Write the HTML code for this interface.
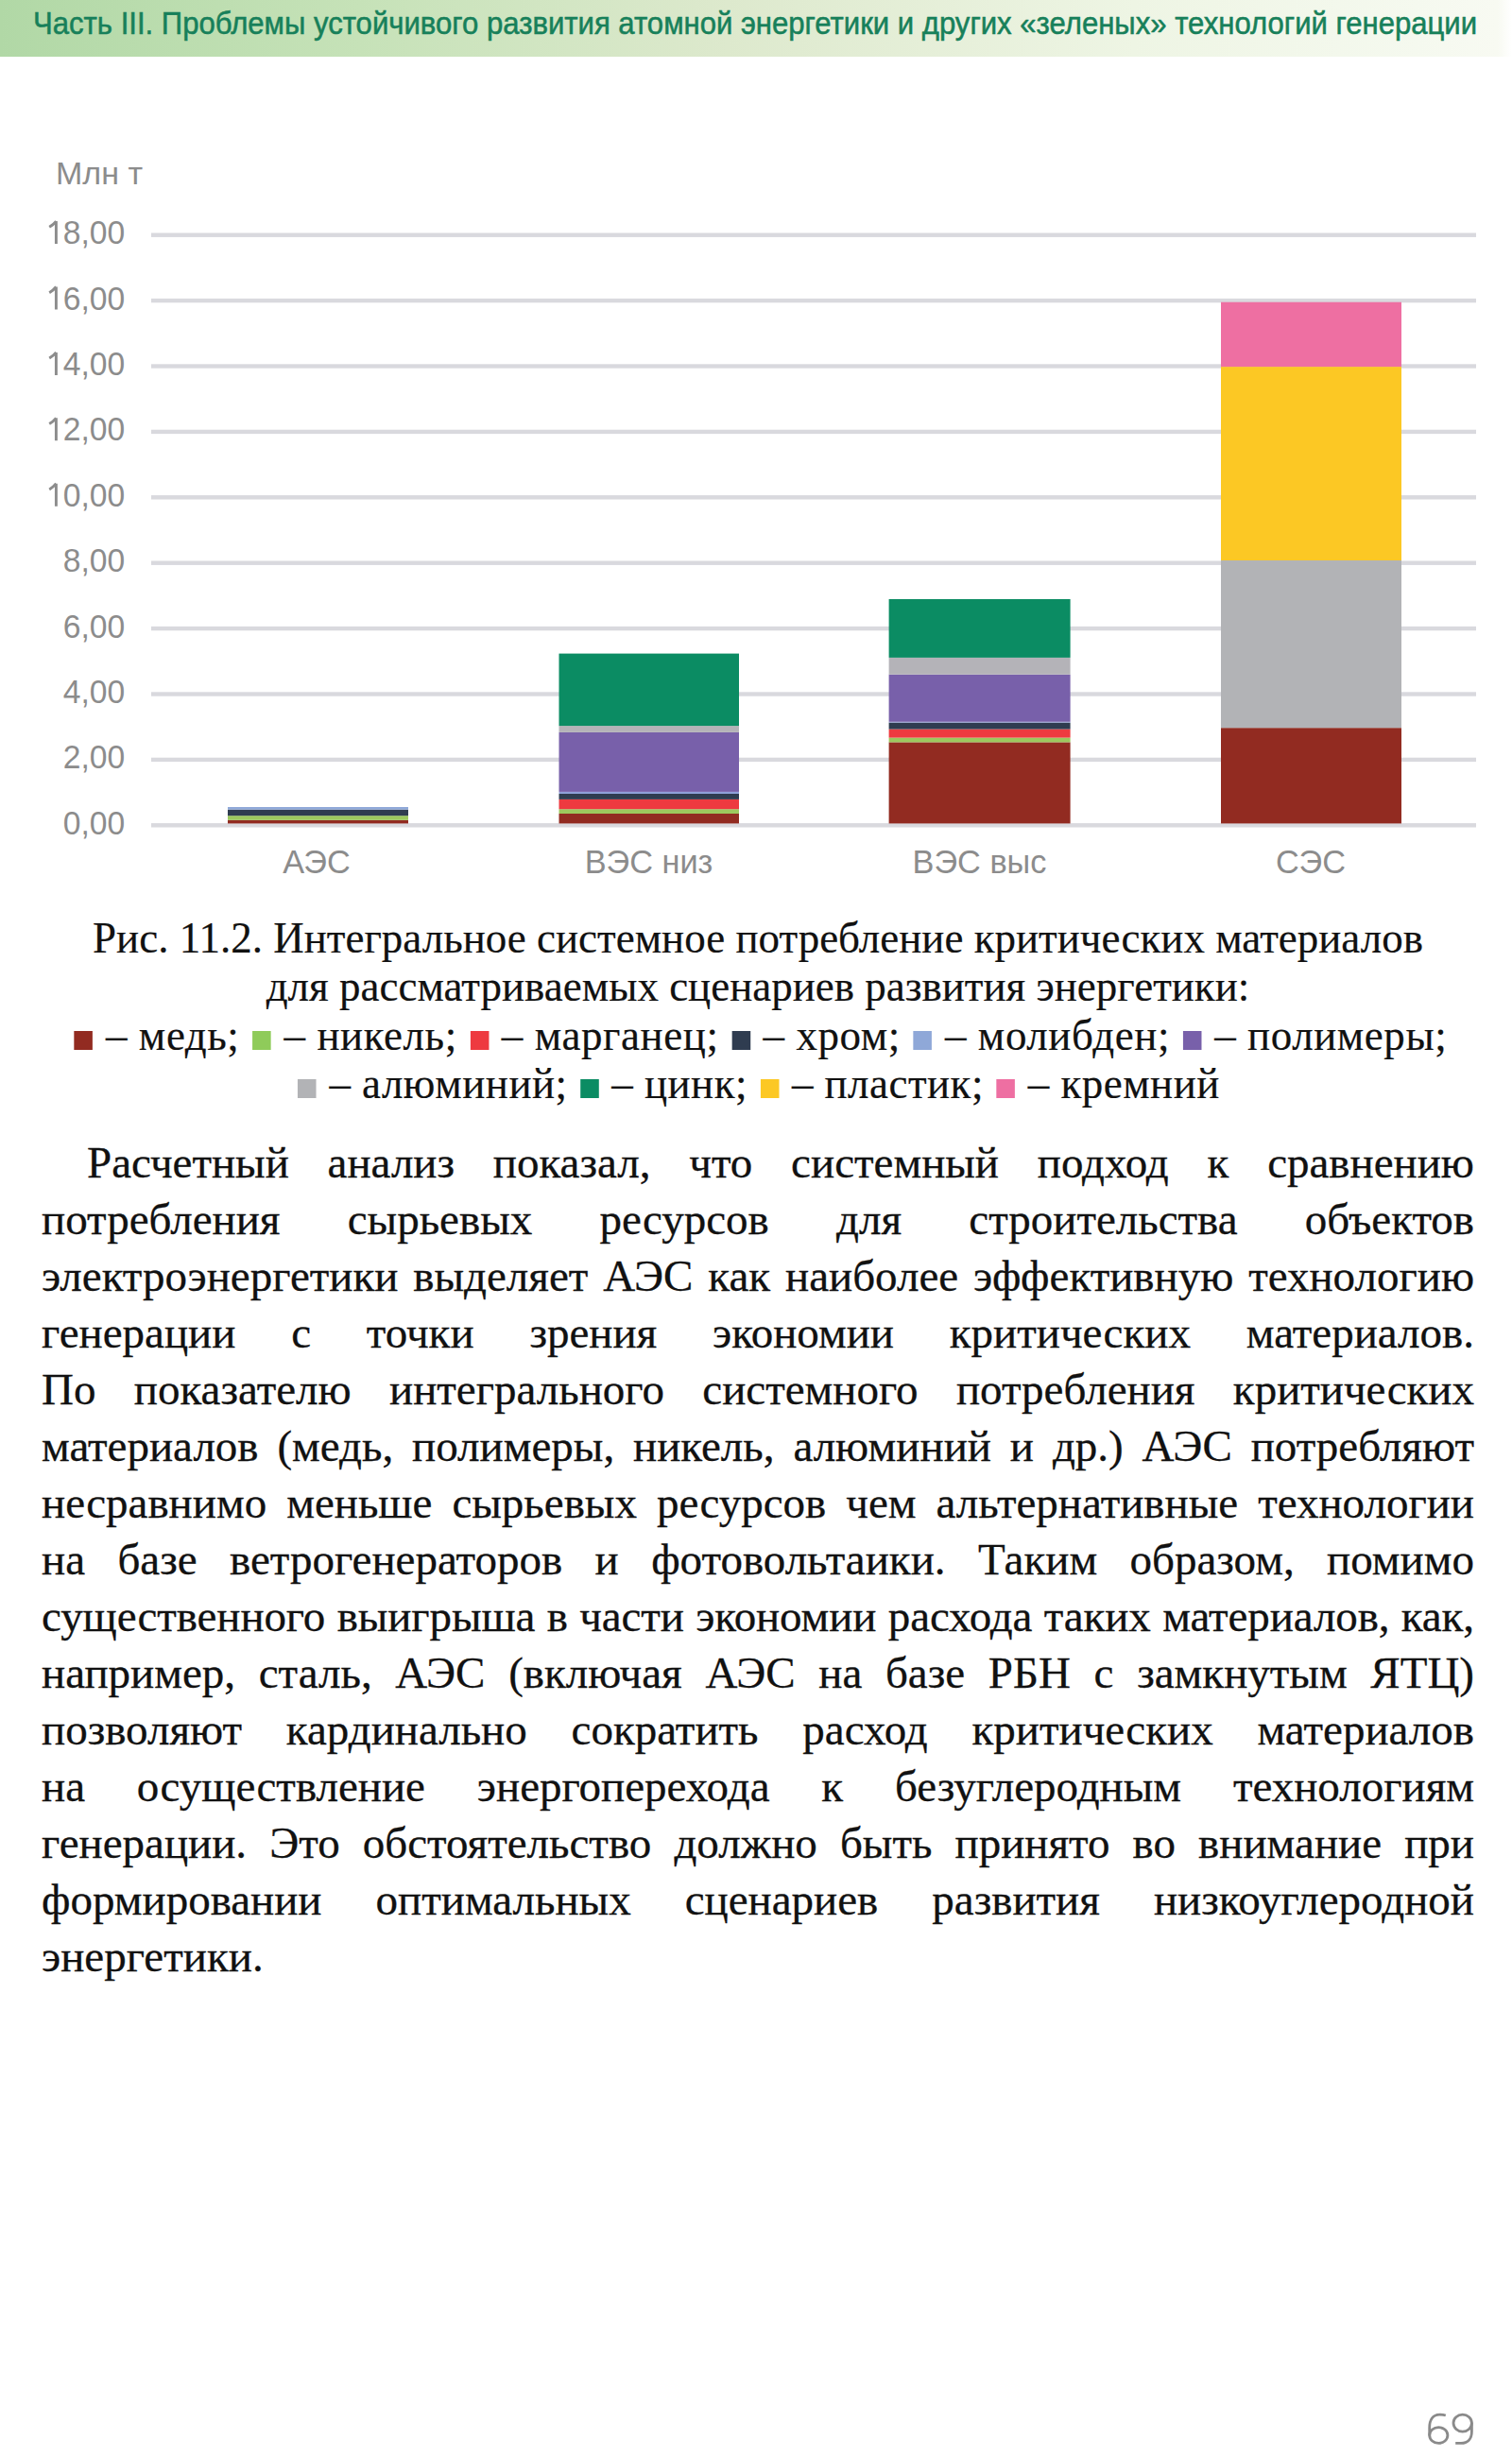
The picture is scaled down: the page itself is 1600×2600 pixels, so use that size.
<!DOCTYPE html>
<html lang="ru">
<head>
<meta charset="utf-8">
<title>Page 69</title>
<style>
html,body{margin:0;padding:0;background:#fff;}
body{width:1600px;height:2600px;position:relative;overflow:hidden;}
.band{position:absolute;left:0;top:0;width:1600px;height:60px;
  background:linear-gradient(90deg,#b1d8a6 0px,#c6e2b8 380px,#dde9cd 770px,#eef5e4 1200px,#f5f9ef 1500px,#f8faf2 1585px,#ffffff 1600px);}
.hdr{position:absolute;left:34.5px;top:4px;-webkit-text-stroke:0.55px #17805a;font-family:"Liberation Sans",sans-serif;font-size:34px;line-height:40px;color:#17805a;
  white-space:nowrap;transform-origin:0 0;transform:scaleX(0.9145);}
svg{position:absolute;left:0;top:0;}
.cap{position:absolute;left:0;width:1600px;text-align:center;font-family:"Liberation Serif",serif;font-size:46px;color:#111;-webkit-text-stroke:0.2px #111;transform:scaleX(0.978);transform-origin:800px 0;white-space:nowrap;line-height:51px;}
.sq{display:inline-block;width:20px;height:20px;vertical-align:baseline;margin:0 2px;}
.lg{letter-spacing:0.6px;}
.body{position:absolute;left:44px;width:1516px;font-family:"Liberation Serif",serif;font-size:47px;color:#111;-webkit-text-stroke:0.3px #111;}
.ln{height:60px;line-height:60px;text-align:justify;text-align-last:justify;white-space:normal;}
</style>
</head>
<body>
<div class="band"></div>
<div class="hdr">Часть III. Проблемы устойчивого развития атомной энергетики и других «зеленых» технологий генерации</div>

<svg width="1600" height="960" viewBox="0 0 1600 960">
  <g fill="#d9d9de">
    <rect x="160" y="246.5" width="1402" height="4.4"/>
    <rect x="160" y="315.9" width="1402" height="4.4"/>
    <rect x="160" y="385.3" width="1402" height="4.4"/>
    <rect x="160" y="454.7" width="1402" height="4.4"/>
    <rect x="160" y="524.1" width="1402" height="4.4"/>
    <rect x="160" y="593.5" width="1402" height="4.4"/>
    <rect x="160" y="662.9" width="1402" height="4.4"/>
    <rect x="160" y="732.3" width="1402" height="4.4"/>
    <rect x="160" y="801.7" width="1402" height="4.4"/>
    <rect x="160" y="871.1" width="1402" height="4.4"/>
  </g>
  <g font-family="Liberation Sans, sans-serif" font-size="36" fill="#8c8c8c" text-anchor="end">
    <text transform="translate(132.3 258.1) scale(0.935 1)">8,00</text>
    <text transform="translate(132.3 327.5) scale(0.935 1)">6,00</text>
    <text transform="translate(132.3 396.9) scale(0.935 1)">4,00</text>
    <text transform="translate(132.3 466.3) scale(0.935 1)">2,00</text>
    <text transform="translate(132.3 535.7) scale(0.935 1)">0,00</text>
    <text transform="translate(132.3 605.1) scale(0.935 1)">8,00</text>
    <text transform="translate(132.3 674.5) scale(0.935 1)">6,00</text>
    <text transform="translate(132.3 743.9) scale(0.935 1)">4,00</text>
    <text transform="translate(132.3 813.3) scale(0.935 1)">2,00</text>
    <text transform="translate(132.3 882.7) scale(0.935 1)">0,00</text>
  </g>
  <g fill="none" stroke="#8c8c8c" stroke-width="2.9"><path d="M59.4,234.1 V258.1 M52.2,240.3 Q56.6,237.7 59.4,234.1"/><path d="M59.4,303.5 V327.5 M52.2,309.7 Q56.6,307.1 59.4,303.5"/><path d="M59.4,372.9 V396.9 M52.2,379.1 Q56.6,376.5 59.4,372.9"/><path d="M59.4,442.3 V466.3 M52.2,448.5 Q56.6,445.9 59.4,442.3"/><path d="M59.4,511.7 V535.7 M52.2,517.9 Q56.6,515.3 59.4,511.7"/></g>
  <text x="59" y="194.7" font-family="Liberation Sans, sans-serif" font-size="34" fill="#8c8c8c">Млн т</text>
  <g font-family="Liberation Sans, sans-serif" font-size="34.3" fill="#8c8c8c" text-anchor="middle">
    <text x="335" y="923.6">АЭС</text>
    <text x="686.5" y="923.6">ВЭС низ</text>
    <text x="1036.5" y="923.6">ВЭС выс</text>
    <text x="1387" y="923.6">СЭС</text>
  </g>
  <!-- bar 1 АЭС -->
  <g>
    <rect x="241" y="867.8" width="191" height="3.6" fill="#922b21"/>
    <rect x="241" y="863.2" width="191" height="4.6" fill="#9dc85e"/>
    <rect x="241" y="856.7" width="191" height="6.5" fill="#2f3c50"/>
    <rect x="241" y="854" width="191" height="2.7" fill="#8fa8d8"/>
  </g>
  <!-- bar 2 ВЭС низ -->
  <g>
    <rect x="591.5" y="861" width="190.5" height="10.4" fill="#922b21"/>
    <rect x="591.5" y="856.2" width="190.5" height="4.8" fill="#9dc85e"/>
    <rect x="591.5" y="845.9" width="190.5" height="10.3" fill="#ee3a40"/>
    <rect x="591.5" y="840" width="190.5" height="5.9" fill="#2f3c50"/>
    <rect x="591.5" y="837.9" width="190.5" height="2.1" fill="#8fa0d8"/>
    <rect x="591.5" y="774.9" width="190.5" height="63" fill="#7860aa"/>
    <rect x="591.5" y="768.1" width="190.5" height="6.8" fill="#b4b3b8"/>
    <rect x="591.5" y="691.6" width="190.5" height="76.5" fill="#0b8c63"/>
  </g>
  <!-- bar 3 ВЭС выс -->
  <g>
    <rect x="940.6" y="785.4" width="192" height="86" fill="#922b21"/>
    <rect x="940.6" y="780.6" width="192" height="4.8" fill="#9dc85e"/>
    <rect x="940.6" y="771.6" width="192" height="9" fill="#ee3a40"/>
    <rect x="940.6" y="764.6" width="192" height="7" fill="#2f3c50"/>
    <rect x="940.6" y="763.8" width="192" height="0.8" fill="#8fa0d8"/>
    <rect x="940.6" y="713.7" width="192" height="50.1" fill="#7860aa"/>
    <rect x="940.6" y="695.9" width="192" height="17.8" fill="#b4b3b8"/>
    <rect x="940.6" y="634" width="192" height="61.9" fill="#0b8c63"/>
  </g>
  <!-- bar 4 СЭС -->
  <g>
    <rect x="1292" y="770.2" width="191" height="101.2" fill="#922b21"/>
    <rect x="1292" y="593" width="191" height="177.2" fill="#b2b3b6"/>
    <rect x="1292" y="388.1" width="191" height="204.9" fill="#fcc824"/>
    <rect x="1292" y="319.7" width="191" height="68.4" fill="#ee6fa2"/>
  </g>
</svg>

<div class="cap" style="top:966.5px;left:2px">Рис. 11.2. Интегральное системное потребление критических материалов</div>
<div class="cap" style="top:1018px;left:2px">для рассматриваемых сценариев развития энергетики:</div>
<div class="cap lg" style="top:1069.5px;left:4px;letter-spacing:0.58px"><span class="sq" style="background:#922b21"></span> – медь; <span class="sq" style="background:#8fcb5a"></span> – никель; <span class="sq" style="background:#ee3a40"></span> – марганец; <span class="sq" style="background:#2f3c50"></span> – хром; <span class="sq" style="background:#8fa8d8"></span> – молибден; <span class="sq" style="background:#7860aa"></span> – полимеры;</div>
<div class="cap lg" style="top:1121px;left:2px;letter-spacing:0.48px"><span class="sq" style="background:#b2b3b6"></span> – алюминий; <span class="sq" style="background:#0b8c63"></span> – цинк; <span class="sq" style="background:#fcc824"></span> – пластик; <span class="sq" style="background:#ee6fa2"></span> – кремний</div>

<div class="body" style="top:1200px">
<div class="ln" style="padding-left:48px">Расчетный анализ показал, что системный подход к сравнению</div>
<div class="ln">потребления сырьевых ресурсов для строительства объектов</div>
<div class="ln">электроэнергетики выделяет АЭС как наиболее эффективную технологию</div>
<div class="ln">генерации с точки зрения экономии критических материалов.</div>
<div class="ln">По показателю интегрального системного потребления критических</div>
<div class="ln">материалов (медь, полимеры, никель, алюминий и др.) АЭС потребляют</div>
<div class="ln">несравнимо меньше сырьевых ресурсов чем альтернативные технологии</div>
<div class="ln">на базе ветрогенераторов и фотовольтаики. Таким образом, помимо</div>
<div class="ln" style="letter-spacing:-0.1px">существенного выигрыша в части экономии расхода таких материалов, как,</div>
<div class="ln">например, сталь, АЭС (включая АЭС на базе РБН с замкнутым ЯТЦ)</div>
<div class="ln">позволяют кардинально сократить расход критических материалов</div>
<div class="ln">на осуществление энергоперехода к безуглеродным технологиям</div>
<div class="ln">генерации. Это обстоятельство должно быть принято во внимание при</div>
<div class="ln">формировании оптимальных сценариев развития низкоуглеродной</div>
<div class="ln" style="text-align-last:left">энергетики.</div>
</div>

<svg width="1600" height="2600" style="position:absolute;left:0;top:0">
<g fill="none" stroke="#8a8a8a" stroke-width="2.8">
<ellipse cx="1522.3" cy="2577" rx="9.6" ry="8.4"/>
<path d="M1529.8,2556 Q1527,2555.1 1523.5,2555.1 C1516,2555.1 1512.7,2561 1512.7,2569 L1512.7,2577.5"/>
<ellipse cx="1547.7" cy="2564.1" rx="9.7" ry="9"/>
<path d="M1557.4,2563.5 L1557.4,2573 C1557.4,2581 1553,2585.4 1546,2585.4 L1540.2,2585.4"/>
</g></svg>
</body>
</html>
